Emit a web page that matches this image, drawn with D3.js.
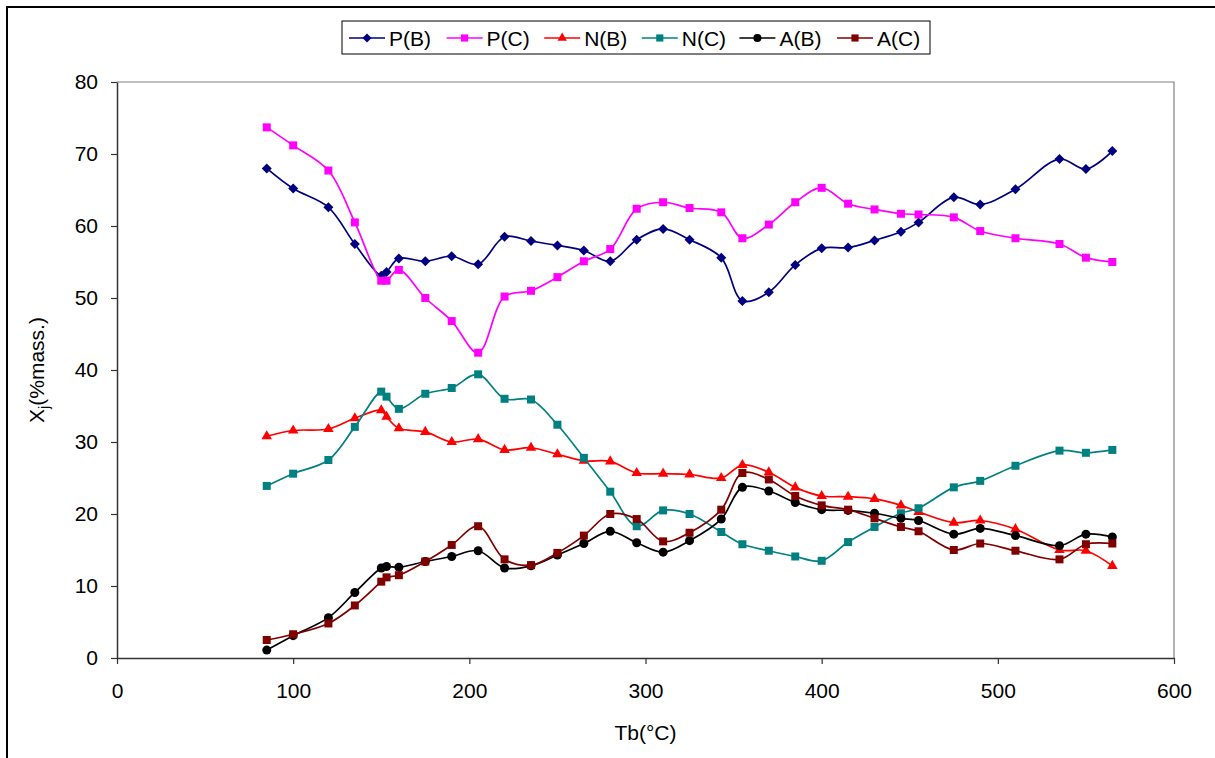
<!DOCTYPE html>
<html>
<head>
<meta charset="utf-8">
<script src="https://cdn.jsdelivr.net/npm/d3@7"></script>
<style>
  body { margin: 0; background: #fff; }
  text { font-family: "Liberation Sans", Arial, sans-serif; }
</style>
</head>
<body>
<div id="chart"></div>
<script>
// boiling temperature of each cut, degC
var tb = [85, 100, 120, 135, 150, 153, 160, 175, 190, 205, 220, 235, 250, 265, 280, 295, 310,
          325, 343, 355, 370, 385, 400, 415, 430, 445, 455, 475, 490, 510, 535, 550, 565];

var pB = [68.0, 65.2, 62.6, 57.5, 53.1, 53.6, 55.5, 55.1, 55.8, 54.7, 58.5, 57.9, 57.3, 56.6, 55.1, 58.1, 59.6,
          58.1, 55.6, 49.6, 50.8, 54.6, 56.9, 57.0, 58.0, 59.2, 60.5, 64.0, 63.0, 65.1, 69.3, 67.9, 70.4];
var pC = [73.7, 71.2, 67.7, 60.5, 52.4, 52.4, 53.9, 50.0, 46.8, 42.4, 50.2, 51.0, 52.9, 55.1, 56.8, 62.4, 63.3,
          62.5, 61.9, 58.3, 60.2, 63.3, 65.3, 63.1, 62.3, 61.7, 61.6, 61.2, 59.3, 58.3, 57.5, 55.6, 55.0];
var nB = [30.8, 31.6, 31.8, 33.3, 34.4, 33.5, 31.9, 31.4, 30.0, 30.4, 28.9, 29.2, 28.3, 27.4, 27.3, 25.7, 25.6,
          25.5, 25.0, 26.8, 25.8, 23.7, 22.5, 22.4, 22.1, 21.2, 20.3, 18.8, 19.1, 17.9, 15.0, 14.9, 12.8];
var nC = [23.9, 25.6, 27.5, 32.1, 37.0, 36.3, 34.6, 36.7, 37.5, 39.4, 36.0, 35.9, 32.4, 27.8, 23.1, 18.3, 20.5,
          20.0, 17.5, 15.8, 14.9, 14.1, 13.5, 16.1, 18.2, 20.1, 20.8, 23.7, 24.6, 26.7, 28.8, 28.5, 28.9];
var aB = [1.1, 3.1, 5.6, 9.1, 12.5, 12.7, 12.6, 13.4, 14.1, 14.9, 12.5, 12.8, 14.3, 15.9, 17.6, 16.0, 14.7,
          16.3, 19.3, 23.7, 23.2, 21.6, 20.6, 20.5, 20.1, 19.4, 19.1, 17.2, 18.0, 17.0, 15.6, 17.2, 16.8];
var aC = [2.5, 3.3, 4.8, 7.3, 10.6, 11.2, 11.5, 13.4, 15.7, 18.3, 13.7, 12.9, 14.6, 17.0, 20.0, 19.3, 16.2,
          17.4, 20.6, 25.7, 24.8, 22.5, 21.2, 20.6, 19.4, 18.2, 17.6, 15.0, 15.9, 14.9, 13.7, 15.8, 15.9];

var seriesNames = ["P(B)", "P(C)", "N(B)", "N(C)", "A(B)", "A(C)"];
var seriesValues = [pB, pC, nB, nC, aB, aC];
var xTicks = [0, 100, 200, 300, 400, 500, 600];
var yTicks = [0, 10, 20, 30, 40, 50, 60, 70, 80];

var colors = ["#000080", "#ff00ff", "#ff0000", "#008080", "#000000", "#800000"];
var shapes = ["diamond", "square", "triangle", "square", "circle", "square"];

var W = 1215, H = 758;
var margin = {left: 117, right: 41, top: 82, bottom: 100};
var width = W - margin.left - margin.right;
var height = H - margin.top - margin.bottom;

var svg = d3.select("#chart").append("svg")
  .attr("width", W)
  .attr("height", H);

// outer chart frame (cropped on right / bottom)
svg.append("rect")
  .attr("x", 7).attr("y", 7)
  .attr("width", 1240).attr("height", 800)
  .attr("fill", "none")
  .attr("stroke", "#000")
  .attr("stroke-width", 2);

var g = svg.append("g")
  .attr("transform", "translate(" + margin.left + "," + margin.top + ")");

var x = d3.scaleLinear().domain([0, 600]).range([0, width]);
var y = d3.scaleLinear().domain([0, 80]).range([height, 0]);

// plot area border (grey top + right)
g.append("path")
  .attr("d", "M0,0H" + width + "V" + height)
  .attr("fill", "none")
  .attr("stroke", "#808080")
  .attr("stroke-width", 1.2);

var yAxis = g.append("g")
  .call(d3.axisLeft(y).tickValues(yTicks).tickSize(6).tickSizeOuter(0).tickPadding(13));
var xAxis = g.append("g")
  .attr("transform", "translate(0," + height + ")")
  .call(d3.axisBottom(x).tickValues(xTicks).tickSize(6).tickSizeOuter(0).tickPadding(19));

[xAxis, yAxis].forEach(function(a) {
  a.select(".domain").attr("stroke", "#333").attr("stroke-width", 1.5);
  a.selectAll(".tick line").attr("stroke", "#333").attr("stroke-width", 1.2);
  a.selectAll(".tick text")
    .attr("font-size", 21)
    .attr("fill", "#000")
    .style("font-family", "'Liberation Sans', Arial, sans-serif");
});

// axis titles
svg.append("text")
  .attr("x", margin.left + width / 2)
  .attr("y", 740)
  .attr("text-anchor", "middle")
  .attr("font-size", 21)
  .text("Tb(°C)");

var yt = svg.append("text")
  .attr("transform", "translate(44,370) rotate(-90)")
  .attr("text-anchor", "middle")
  .attr("font-size", 21);
yt.append("tspan").text("X");
yt.append("tspan").attr("font-size", 14).attr("dy", 5).text("j");
yt.append("tspan").attr("dy", -5).text("(%mass.)");

function markerPath(shape, k) {
  k = k || 1;
  if (shape == "diamond") return d3.symbol().type(d3.symbolSquare).size(50 * k)();
  if (shape == "square") return d3.symbol().type(d3.symbolSquare).size(64 * k)();
  if (shape == "triangle") return d3.symbol().type(d3.symbolTriangle).size(48 * k)();
  return d3.symbol().type(d3.symbolCircle).size(64 * k)();
}

var line = d3.line()
  .x(function(d) { return x(d[0]); })
  .y(function(d) { return y(d[1]); })
  .curve(d3.curveCatmullRom.alpha(0.5));

seriesValues.forEach(function(vals, i) {
  var pts = tb.map(function(t, j) { return [t, vals[j]]; });
  var sg = g.append("g");
  sg.append("path")
    .datum(pts)
    .attr("d", line)
    .attr("fill", "none")
    .attr("stroke", colors[i])
    .attr("stroke-width", 1.7);
  sg.selectAll(".pt")
    .data(pts)
    .enter().append("path")
    .attr("class", "pt")
    .attr("d", markerPath(shapes[i]))
    .attr("transform", function(d) {
      return "translate(" + x(d[0]) + "," + y(d[1]) + ")" + (shapes[i] == "diamond" ? " rotate(45)" : "");
    })
    .attr("fill", colors[i]);
});

// legend
var legend = svg.append("g").attr("transform", "translate(342,21)");
legend.append("rect")
  .attr("width", 588).attr("height", 33)
  .attr("fill", "#fff")
  .attr("stroke", "#000")
  .attr("stroke-width", 1);

seriesNames.forEach(function(name, i) {
  var item = legend.append("g").attr("transform", "translate(" + (7 + i * 97.6) + ",17)");
  item.append("line")
    .attr("x1", 0).attr("x2", 36)
    .attr("stroke", colors[i])
    .attr("stroke-width", 1.7);
  item.append("path")
    .attr("d", markerPath(shapes[i], 0.8))
    .attr("transform", "translate(18,0)" + (shapes[i] == "diamond" ? " rotate(45)" : ""))
    .attr("fill", colors[i]);
  item.append("text")
    .attr("x", 40)
    .attr("y", 7.5)
    .attr("font-size", 21)
    .text(name);
});
</script>
</body>
</html>
